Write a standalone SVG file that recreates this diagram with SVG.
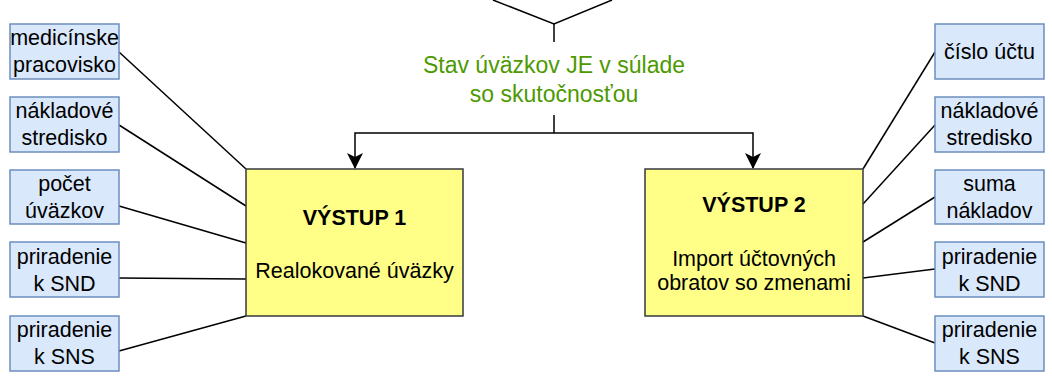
<svg xmlns="http://www.w3.org/2000/svg" width="1052" height="382" viewBox="0 0 1052 382">
<style>
.attr{fill:#dae8fc;stroke:#6c8ebf;stroke-width:1.5}
.out{fill:#ffff88;stroke:#36393d;stroke-width:1.5}
.t{font-family:"Liberation Sans",Arial,sans-serif;font-size:21.5px;fill:#000;text-anchor:middle}
.b{font-weight:bold}
.g{font-family:"Liberation Sans",Arial,sans-serif;font-size:23px;fill:#4D9900;text-anchor:middle}
.c{fill:none;stroke:#000;stroke-width:1.5}
</style>
<defs>
<marker id="arr" viewBox="0 0 16 16" refX="15" refY="8" markerWidth="16" markerHeight="16" markerUnits="userSpaceOnUse" orient="auto">
<path d="M0,0 L16,8 L0,16 L4,8 Z" fill="#000"/>
</marker>
</defs>
<g id="connectors">
<path class="c" d="M493,0 L554,24 L612,0"/>
<path class="c" d="M554,24 L554,42"/>
<path class="c" d="M554,115 L554,133"/>
<path class="c" d="M554,133 L355,133 L355,168" marker-end="url(#arr)"/>
<path class="c" d="M554,133 L753,133 L753,168" marker-end="url(#arr)"/>
<path class="c" d="M119,52 L246,169"/>
<path class="c" d="M119,125 L246,206"/>
<path class="c" d="M119,206 L246,243"/>
<path class="c" d="M119,278 L246,279"/>
<path class="c" d="M119,351 L246,316"/>
<path class="c" d="M863,169 L935,52"/>
<path class="c" d="M863,204 L935,125"/>
<path class="c" d="M863,242 L935,197"/>
<path class="c" d="M863,278 L935,269"/>
<path class="c" d="M863,316 L935,343"/>
</g>
<g id="label-stav">
<text class="g" x="554" y="73">Stav úväzkov JE v súlade</text>
<text class="g" x="554" y="101.5">so skutočnosťou</text>
</g>
<g id="vystup1">
<rect class="out" x="246" y="169" width="217" height="147"/>
<text class="t b" x="354.5" y="225">VÝSTUP 1</text>
<text class="t" x="354.5" y="277.5">Realokované úväzky</text>
</g>
<g id="vystup2">
<rect class="out" x="645" y="169" width="218" height="147"/>
<text class="t b" x="754" y="211.5">VÝSTUP 2</text>
<text class="t" x="754" y="266">Import účtovných</text>
<text class="t" x="754" y="290">obratov so zmenami</text>
</g>
<g id="l-medicinske">
<rect class="attr" x="10" y="24" width="109" height="55"/>
<text class="t" x="64.5" y="45">medicínske</text>
<text class="t" x="64.5" y="72">pracovisko</text>
</g>
<g id="l-nakladove">
<rect class="attr" x="10" y="97" width="109" height="55"/>
<text class="t" x="64.5" y="118">nákladové</text>
<text class="t" x="64.5" y="145">stredisko</text>
</g>
<g id="l-pocet">
<rect class="attr" x="10" y="170" width="109" height="54"/>
<text class="t" x="64.5" y="191">počet</text>
<text class="t" x="64.5" y="218">úväzkov</text>
</g>
<g id="l-snd">
<rect class="attr" x="10" y="242" width="109" height="55"/>
<text class="t" x="64.5" y="264">priradenie</text>
<text class="t" x="64.5" y="291">k SND</text>
</g>
<g id="l-sns">
<rect class="attr" x="10" y="316" width="109" height="55"/>
<text class="t" x="64.5" y="337">priradenie</text>
<text class="t" x="64.5" y="364">k SNS</text>
</g>
<g id="r-cislo">
<rect class="attr" x="935" y="24" width="109" height="55"/>
<text class="t" x="989.5" y="58.5">číslo účtu</text>
</g>
<g id="r-nakladove">
<rect class="attr" x="935" y="97" width="109" height="55"/>
<text class="t" x="989.5" y="118">nákladové</text>
<text class="t" x="989.5" y="145">stredisko</text>
</g>
<g id="r-suma">
<rect class="attr" x="935" y="170" width="109" height="54"/>
<text class="t" x="989.5" y="191">suma</text>
<text class="t" x="989.5" y="218">nákladov</text>
</g>
<g id="r-snd">
<rect class="attr" x="935" y="242" width="109" height="55"/>
<text class="t" x="989.5" y="264">priradenie</text>
<text class="t" x="989.5" y="291">k SND</text>
</g>
<g id="r-sns">
<rect class="attr" x="935" y="316" width="109" height="55"/>
<text class="t" x="989.5" y="337">priradenie</text>
<text class="t" x="989.5" y="364">k SNS</text>
</g>
</svg>
